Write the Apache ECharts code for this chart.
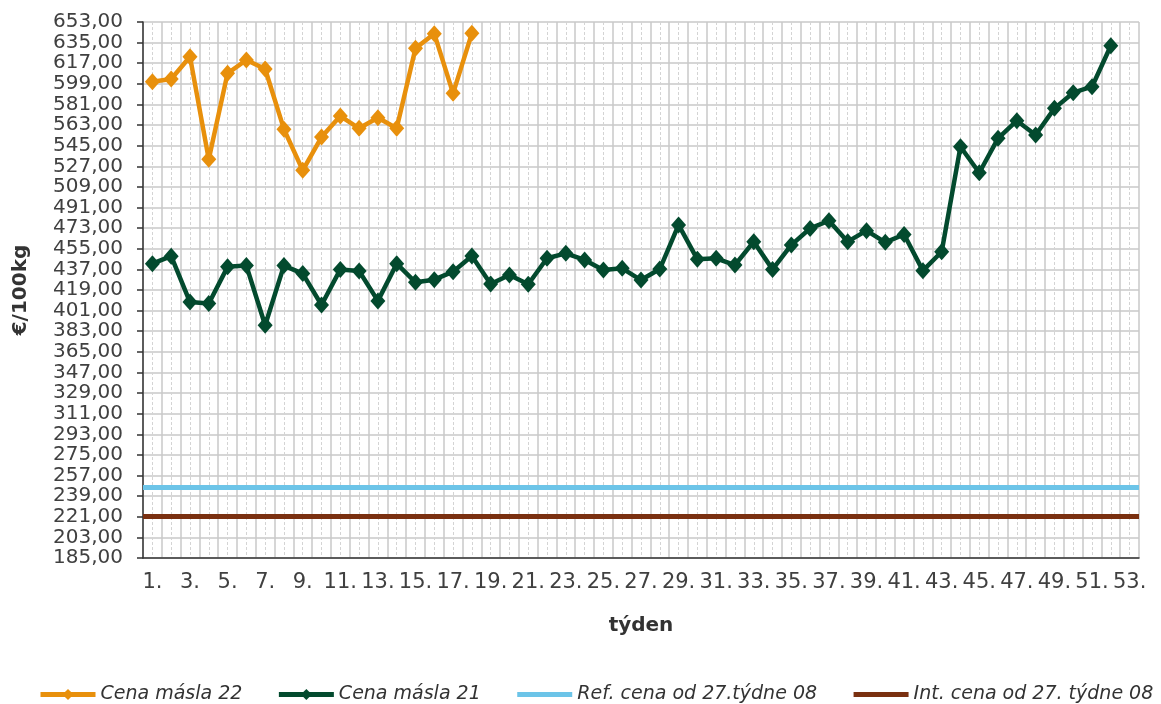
<!DOCTYPE html>
<html>
<head>
<meta charset="utf-8">
<title>Cena másla</title>
<script src="https://cdn.jsdelivr.net/npm/echarts@6/dist/echarts.min.js"></script>
<style>
  html, body { margin: 0; padding: 0; background: #fff; }
  #main { width: 1161px; height: 704px; }
</style>
</head>
<body>
<div id="main"></div>
<script>
// týdny 1.–53.
const weeks = ['1', '2', '3', '4', '5', '6', '7', '8', '9', '10',
  '11', '12', '13', '14', '15', '16', '17', '18', '19', '20',
  '21', '22', '23', '24', '25', '26', '27', '28', '29', '30',
  '31', '32', '33', '34', '35', '36', '37', '38', '39', '40',
  '41', '42', '43', '44', '45', '46', '47', '48', '49', '50',
  '51', '52', '53']

// Cena másla 22 (€/100kg)
const butter22 = [600.9, 603.2, 622.7, 533.1, 608.2, 619.8, 612.0, 559.4, 523.5, 552.5,
  570.9, 560.2, 569.4, 560.2, 630.0, 642.8, 590.7, 643.1]

// Cena másla 21 (€/100kg)
const butter21 = [442.0, 448.5, 408.5, 407.2, 439.2, 440.3, 388.2, 440.3, 433.3, 405.9,
  437.0, 435.6, 409.5, 442.0, 425.7, 428.0, 435.0, 448.7, 424.2, 432.1,
  424.0, 446.7, 451.0, 445.2, 436.5, 437.9, 427.7, 437.3, 475.8, 445.8,
  446.7, 440.8, 461.2, 437.0, 458.3, 472.8, 479.5, 461.2, 470.8, 460.6,
  467.5, 435.9, 452.4, 544.1, 521.4, 551.4, 566.8, 554.3, 577.6, 591.3,
  596.5, 632.3]

const refPrice = 246.39 // Ref. cena od 27. týdne 08
const intPrice = 221.75 // Int. cena od 27. týdne 08

const FONT = '"DejaVu Sans", Verdana, sans-serif'

const chart = echarts.init(document.getElementById('main'))

const option = {
  animation: false,
  grid: {
    left: 143,
    right: 22,
    top: 22,
    bottom: 146
  },
  legend: {
    top: 680,
    left: 33,
    itemWidth: 55,
    itemHeight: 14,
    itemGap: 34,
    lineStyle: { width: 5 },
    textStyle: {
      fontFamily: FONT,
      fontStyle: 'italic',
      fontSize: 19,
      color: '#333'
    },
    data: [
      { name: 'Cena másla 22' },
      { name: 'Cena másla 21' },
      { name: 'Ref. cena od 27.týdne 08', itemStyle: { opacity: 0 } },
      { name: 'Int. cena od 27. týdne 08', itemStyle: { opacity: 0 } }
    ]
  },
  xAxis: [
    {
      type: 'category',
      data: weeks,
      boundaryGap: true,
      name: 'týden',
      nameLocation: 'middle',
      nameGap: 58,
      nameTextStyle: {
        fontFamily: FONT,
        fontWeight: 'bold',
        fontSize: 20,
        color: '#333'
      },
      axisLine: { lineStyle: { color: '#333', width: 1.5 } },
      axisTick: { interval: 0, length: 6, lineStyle: { color: '#333', width: 1.5 } },
      axisLabel: {
        interval: 1,
        margin: 14,
        fontFamily: FONT,
        fontSize: 21,
        color: '#404040',
        formatter: (v) => v + '.'
      },
      splitLine: {
        show: true,
        interval: 0,
        lineStyle: { color: '#c8c8c8', width: 1.5 }
      }
    },
    {
      // pomocná osa jen pro čárkované mřížky uprostřed týdnů
      type: 'value',
      min: 0,
      max: 53,
      interval: 1,
      show: true,
      axisLine: { show: false },
      axisTick: { show: false },
      axisLabel: { show: false },
      splitLine: { show: false },
      minorTick: { show: false, splitNumber: 2 },
      minorSplitLine: {
        show: true,
        lineStyle: { color: '#d4d4d4', width: 1, type: [3, 2] }
      }
    }
  ],
  yAxis: {
    type: 'value',
    min: 185,
    max: 653,
    interval: 18,
    name: '€/100kg',
    nameLocation: 'middle',
    nameGap: 112,
    nameRotate: 90,
    nameTextStyle: {
      fontFamily: FONT,
      fontWeight: 'bold',
      fontSize: 20,
      color: '#333'
    },
    axisLine: { show: true, lineStyle: { color: '#333', width: 1.5 } },
    axisTick: { show: true, length: 6, lineStyle: { color: '#333', width: 1.5 } },
    axisLabel: {
      margin: 20,
      fontFamily: FONT,
      fontSize: 20,
      color: '#404040',
      formatter: (v) => v.toFixed(2).replace('.', ',')
    },
    splitLine: { lineStyle: { color: '#c8c8c8', width: 1.5 } }
  },
  series: [
    {
      name: 'Cena másla 22',
      type: 'line',
      data: butter22,
      color: '#e8900c',
      symbol: 'diamond',
      symbolSize: [15, 17],
      showAllSymbol: true,
      lineStyle: { width: 4.5 },
      z: 4
    },
    {
      name: 'Cena másla 21',
      type: 'line',
      data: butter21,
      color: '#034a2e',
      symbol: 'diamond',
      symbolSize: [15, 17],
      showAllSymbol: true,
      lineStyle: { width: 4.5 },
      z: 4
    },
    {
      name: 'Ref. cena od 27.týdne 08',
      type: 'line',
      data: [],
      color: '#6cc4e8',
      symbol: 'none',
      lineStyle: { width: 5 },
      markLine: {
        silent: true,
        symbol: 'none',
        label: { show: false },
        lineStyle: { color: '#6cc4e8', width: 5, type: 'solid' },
        data: [{ yAxis: refPrice }]
      }
    },
    {
      name: 'Int. cena od 27. týdne 08',
      type: 'line',
      data: [],
      color: '#7a3010',
      symbol: 'none',
      lineStyle: { width: 5 },
      markLine: {
        silent: true,
        symbol: 'none',
        label: { show: false },
        lineStyle: { color: '#7a3010', width: 5, type: 'solid' },
        data: [{ yAxis: intPrice }]
      }
    }
  ]
}

chart.setOption(option)
</script>
</body>
</html>
